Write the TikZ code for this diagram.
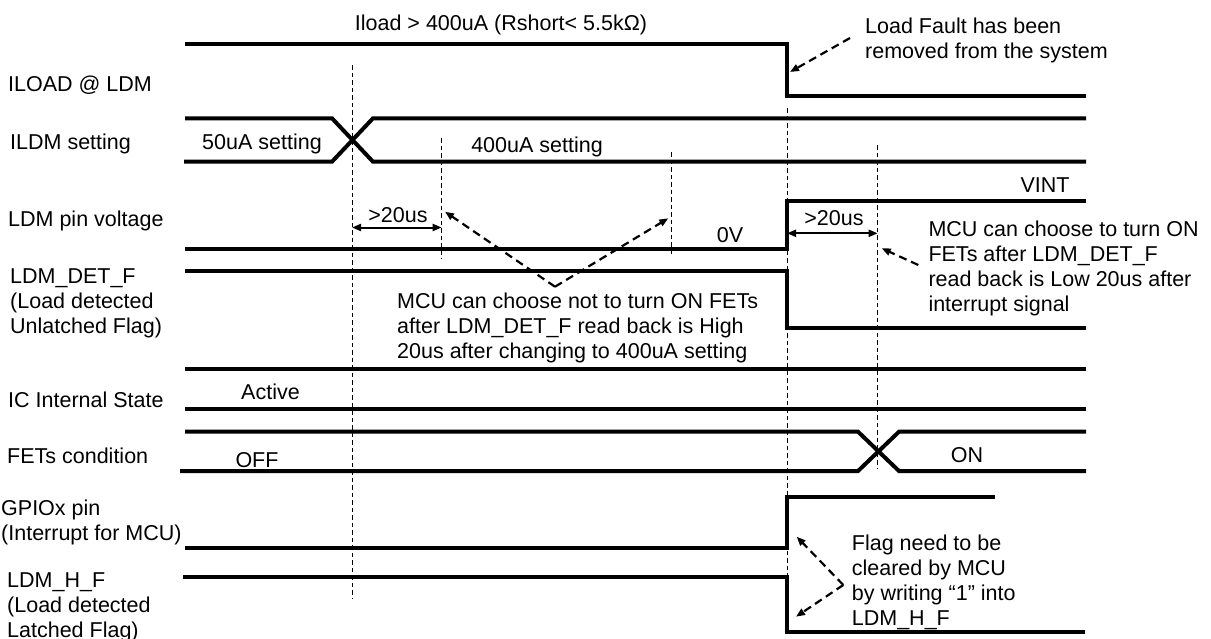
\documentclass[tikz,border=0pt]{standalone}
\usepackage{fontspec}
\setmainfont{Liberation Sans}
\usetikzlibrary{arrows.meta}
\tikzset{
  trace/.style={line width=4pt, line join=miter, line cap=rect},
  guide/.style={line width=1pt, dash pattern=on 4.5pt off 3pt},
  note/.style={line width=2.2pt, dash pattern=on 8pt off 5pt, -{Triangle[length=9pt,width=7pt]}},
  span/.style={line width=2pt, {Triangle[length=9pt,width=7pt]}-{Triangle[length=9pt,width=7pt]}},
  lbl/.style={inner sep=0pt, font=\fontsize{21.5}{25}\selectfont},
  llbl/.style={lbl, anchor=west, align=left},
}
\begin{document}
\begin{tikzpicture}[x=1pt,y=-1pt]
\useasboundingbox (0,0) rectangle (1211,638);

% guide lines
\draw[guide] (352,65) -- (352,598);
\draw[guide] (441.7,138) -- (441.7,259);
\draw[guide] (671.7,152) -- (671.7,255);
\draw[guide] (787,108) -- (787,575);
\draw[guide] (877.7,145) -- (877.7,468);

% signal labels
\node[llbl] (l1) at (8,85.5) {ILOAD @ LDM};
\node[llbl] (l2) at (10,143.5) {ILDM setting};
\node[llbl] (l3) at (8,220.5) {LDM pin voltage};
\node[llbl] (l4) at (10,303.5) {LDM\_DET\_F\\(Load detected\\Unlatched Flag)};
\node[llbl] (l5) at (8,399.5) {IC Internal State};
\node[llbl] (l6) at (7,456) {FETs condition};
\node[llbl] (l7) at (1,522) {GPIOx pin\\(Interrupt for MCU)};
\node[llbl] (l8) at (7,607) {LDM\_H\_F\\(Load detected\\Latched Flag)};

% traces
\draw[trace] (187,43.5) -- (787,43.5) -- (787,96) -- (1084,96);
\draw[trace] (187,118.3) -- (332,118.3) -- (373,161.7) -- (1084,161.7);
\draw[trace] (186,161.7) -- (332,161.7) -- (373,118.3) -- (1084,118.3);
\draw[trace] (187,249.3) -- (787,249.3) -- (787,201) -- (1084,201);
\draw[trace] (187,271) -- (787,271) -- (787,328.3) -- (1084,328.3);
\draw[trace] (187,369.3) -- (1084,369.3);
\draw[trace] (187,409.3) -- (1084,409.3);
\draw[trace] (187,431.7) -- (858,431.7) -- (899,471) -- (1084,471);
\draw[trace] (182,471) -- (858,471) -- (899,431.7) -- (1084,431.7);
\draw[trace] (187,547.7) -- (787,547.7) -- (787,497.3) -- (993,497.3);
\draw[trace] (185,576.7) -- (787,576.7) -- (787,632) -- (1083,632);

% in-trace texts
\node[lbl] (t1) at (501,25) {Iload > 400uA (Rshort< 5.5kΩ)};
\node[lbl] (t2) at (262,143.5) {50uA setting};
\node[lbl] (t3) at (537,146.5) {400uA setting};
\node[lbl] (t4) at (730,235.5) {0V};
\node[lbl] (t5) at (1045,185) {VINT};
\node[lbl] (t6) at (270.5,392) {Active};
\node[lbl] (t7) at (257,460) {OFF};
\node[lbl] (t8) at (967,455) {ON};

% >20us spans
\coordinate (s1a) at (352,227.5);
\coordinate (s1b) at (441.7,227.5);
\draw[span] (s1a) -- (s1b);
\node[lbl] (s1t) at (398,215) {>20us};
\coordinate (s2a) at (787,233.3);
\coordinate (s2b) at (877.7,233.3);
\draw[span] (s2a) -- (s2b);
\node[lbl] (s2t) at (834,218.5) {>20us};

% annotations
\node[llbl] (n1) at (865,40) {Load Fault has been\\removed from the system};
\coordinate (n1s) at (850,38);
\coordinate (n1e) at (790,72);
\draw[note] (n1s) -- (n1e);

\node[llbl] (n2) at (397,328) {MCU can choose not to turn ON FETs\\after LDM\_DET\_F read back is High\\20us after changing to 400uA setting};
\coordinate (n2v) at (555,286.7);
\coordinate (n2a) at (445,211.7);
\coordinate (n2b) at (668.3,218.3);
\draw[note] (n2v) -- (n2a);
\draw[note] (n2v) -- (n2b);

\node[llbl] (n3) at (928.3,268.5) {MCU can choose to turn ON\\FETs after LDM\_DET\_F\\read back is Low 20us after\\interrupt signal};
\coordinate (n3s) at (918.3,265);
\coordinate (n3e) at (881.7,248.3);
\draw[note] (n3s) -- (n3e);

\node[llbl] (n4) at (851.7,582) {Flag need to be\\cleared by MCU\\by writing “1” into\\LDM\_H\_F};
\coordinate (n4v) at (843.3,585);
\coordinate (n4a) at (796.7,536.7);
\coordinate (n4b) at (796,616.7);
\draw[note] (n4v) -- (n4a);
\draw[note] (n4v) -- (n4b);
\end{tikzpicture}
\end{document}
